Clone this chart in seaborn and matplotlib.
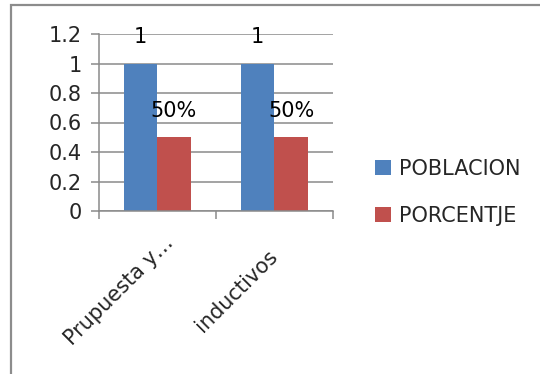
import matplotlib
matplotlib.use("Agg")
import matplotlib.pyplot as plt
import matplotlib.patches as mpatches
import matplotlib.transforms as mtransforms
import seaborn as sns
import pandas as pd

categories = ["Prupuesta y…", "inductivos"]
series_names = ["POBLACION", "PORCENTJE"]
poblacion = [1, 1]
porcentaje = [0.5, 0.5]
poblacion_labels = ["1", "1"]
porcentaje_labels = ["50%", "50%"]
y_ticks = [0, 0.2, 0.4, 0.6, 0.8, 1.0, 1.2]
y_tick_labels = ["0", "0.2", "0.4", "0.6", "0.8", "1", "1.2"]

colors = ["#4F81BD", "#C0504D"]
grid_color = "#8a8a8a"
fs = 15

df = pd.DataFrame({
    "categoria": categories * 2,
    "serie": [series_names[0]] * 2 + [series_names[1]] * 2,
    "valor": poblacion + porcentaje,
})

sns.set_theme(style="white")
plt.rcParams["font.family"] = ["DejaVu Sans"]

fig = plt.figure(figsize=(5.40, 3.74), dpi=100)
ax = fig.add_axes([98.5 / 540, 1 - 211 / 374, (333 - 98.5) / 540, (211 - 34) / 374])

sns.barplot(data=df, x="categoria", y="valor", hue="serie", order=categories,
            hue_order=series_names, palette=colors, width=0.57, saturation=1,
            edgecolor="none", linewidth=0, ax=ax, legend=True)

# value labels above each bar
for cont, labels in zip(ax.containers, [poblacion_labels, porcentaje_labels]):
    ax.bar_label(cont, labels=labels, padding=12, fontsize=fs, color="black")

ax.set_xlim(-0.5, 1.5)
ax.set_ylim(0, 1.2)
ax.set_yticks(y_ticks)
ax.set_yticklabels(y_tick_labels, fontsize=fs)
ax.yaxis.grid(True, color=grid_color, linewidth=1.1)
ax.set_axisbelow(True)

ax.set_xticks([0, 1])
ax.set_xticks([-0.5, 0.5, 1.5], minor=True)
ax.tick_params(axis="x", which="major", length=0, pad=0)
ax.tick_params(axis="x", which="minor", length=6, width=1.1, color=grid_color,
               direction="out", bottom=True)
ax.tick_params(axis="y", which="major", length=6, width=1.1, color=grid_color,
               direction="out", left=True, pad=6)
ax.set_xlabel("")
ax.set_ylabel("")

# category labels: rotated 45 degrees, centred below-left of each category
ax.set_xticklabels(categories, fontsize=fs, rotation=45, ha="center",
                   va="center", rotation_mode="anchor")
shift = mtransforms.ScaledTranslation(-0.38, -0.80, fig.dpi_scale_trans)
for lbl in ax.get_xticklabels():
    lbl.set_transform(lbl.get_transform() + shift)

for side in ["top", "right"]:
    ax.spines[side].set_visible(False)
for side in ["left", "bottom"]:
    ax.spines[side].set_color(grid_color)
    ax.spines[side].set_linewidth(1.1)

handles, labels = ax.get_legend_handles_labels()
ax.legend_.remove()
fig.legend(handles, labels, loc="center left",
           bbox_to_anchor=(375 / 540, 1 - 192.5 / 374), frameon=False,
           fontsize=fs, handlelength=0.75, handleheight=0.75,
           handletextpad=0.4, labelspacing=1.3, borderpad=0,
           borderaxespad=0)

# chart frame (left and top edges visible)
frame = mpatches.Rectangle((10.5 / 540, -0.2), 1.2, 1 - 5 / 374 + 0.2,
                           transform=fig.transFigure, fill=False,
                           edgecolor="#8c8c8c", linewidth=1.6)
fig.patches.append(frame)

fig.savefig("out.png", dpi=100, facecolor="white")
